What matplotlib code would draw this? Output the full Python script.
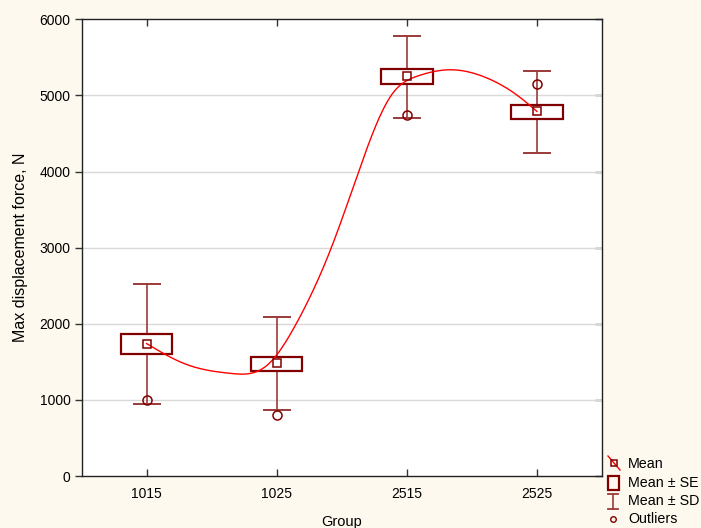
import numpy as np
import matplotlib
matplotlib.use("Agg")
import matplotlib.pyplot as plt
from matplotlib.lines import Line2D
from matplotlib.patches import Rectangle

plt.rcParams['font.family'] = ['Liberation Sans', 'DejaVu Sans']

# ---- data ----
groups = ['1015', '1025', '2515', '2525']
means = [1740, 1487, 5249, 4790]
se_low = [1601, 1382, 5149, 4685]
se_high = [1864, 1566, 5341, 4869]
sd_low = [945, 866, 4703, 4248]
sd_high = [2520, 2087, 5787, 5315]
outliers = [997, 800, 4738, 5154]

# fitted curve (position in group units, value)
curve_t = [0.0, 0.3, 0.646, 0.93, 1.15, 1.42, 1.63, 1.88, 2.08, 2.34, 2.6, 2.85, 3.0]
curve_v = [1740, 1470, 1348, 1460, 2000, 3000, 4000, 5000, 5253, 5337, 5240, 5000, 4790]


def natural_spline(x, y, xs):
    x = np.asarray(x, float); y = np.asarray(y, float)
    n = len(x); h = np.diff(x)
    A = np.zeros((n, n)); b = np.zeros(n)
    A[0, 0] = 1; A[-1, -1] = 1
    for i in range(1, n - 1):
        A[i, i - 1] = h[i - 1]
        A[i, i] = 2 * (h[i - 1] + h[i])
        A[i, i + 1] = h[i]
        b[i] = 6 * ((y[i + 1] - y[i]) / h[i] - (y[i] - y[i - 1]) / h[i - 1])
    M = np.linalg.solve(A, b)
    idx = np.clip(np.searchsorted(x, xs) - 1, 0, n - 2)
    x0 = x[idx]; x1 = x[idx + 1]; hh = x1 - x0
    a = (x1 - xs) / hh; bb = (xs - x0) / hh
    return (a * y[idx] + bb * y[idx + 1]
            + ((a ** 3 - a) * M[idx] + (bb ** 3 - bb) * M[idx + 1]) * hh ** 2 / 6)


W, H = 701, 528
fig = plt.figure(figsize=(W / 100, H / 100), dpi=100)
fig.patch.set_facecolor('#fdf9ef')
L, R, T, B = 81.5, 602, 19.3, 476
ax = fig.add_axes([L / W, 1 - B / H, (R - L) / W, (B - T) / H])
ax.set_facecolor('white')

dark = '#800000'
whisk = '#9c3a3a'
xpos = np.arange(len(groups))
box_w = 0.395
cap_w = 0.2

for i, g in enumerate(groups):
    ax.plot([i, i], [sd_low[i], sd_high[i]], color=whisk, lw=1.2, zorder=2)
    ax.plot([i - cap_w / 2, i + cap_w / 2], [sd_low[i]] * 2, color=whisk, lw=1.4, zorder=2)
    ax.plot([i - cap_w / 2, i + cap_w / 2], [sd_high[i]] * 2, color=whisk, lw=1.4, zorder=2)
    ax.add_patch(Rectangle((i - box_w / 2, se_low[i]), box_w, se_high[i] - se_low[i],
                           facecolor='white', edgecolor=dark, lw=1.6, zorder=3))

ax.plot(xpos, outliers, 'o', ms=6.5, mfc='none', mec=dark, mew=1.1, zorder=4)

ts = np.linspace(curve_t[0], curve_t[-1], 400)
ax.plot(ts, natural_spline(curve_t, curve_v, ts), color='#ff0000', lw=1.0, zorder=5)

ax.plot(xpos, means, 's', ms=6, mfc='none', mec=dark, mew=1.1, zorder=6)

ax.set_xlim(-0.5, 3.5)
ax.set_ylim(0, 6000)
ax.set_xticks(xpos)
ax.set_xticklabels(groups)
ax.set_yticks(np.arange(0, 6001, 1000))
for yv in range(1000, 6000, 1000):
    ax.axhline(yv, color='#d9d9d9', lw=1.0, zorder=1)

ax.tick_params(axis='x', direction='in', top=True, bottom=True, length=5,
               width=1, pad=8, labelsize=10, color='#333333')
ax.tick_params(axis='y', direction='out', left=True, right=False, length=5,
               width=1, pad=3, labelsize=10, color='#333333')
sec = ax.secondary_yaxis('right')
sec.set_yticks(np.arange(0, 6001, 1000))
sec.tick_params(direction='in', length=5, width=1, labelright=False, color='#333333')
sec.spines['right'].set_visible(False)

for s in ax.spines.values():
    s.set_color('#222222')
    s.set_linewidth(1.0)

ax.set_xlabel('Group', fontsize=10.5, labelpad=10)
ax.set_ylabel('Max displacement force, N', fontsize=11.5, labelpad=8)


def P(x, y):
    return (x / W, 1 - y / H)


tf = fig.transFigure
# Mean
x0, y0 = P(608, 456); x1, y1 = P(620, 470)
fig.add_artist(Line2D([x0, x1], [y0, y1], color='#ff0000', lw=1.0, transform=tf))
mx, my = P(614, 463)
fig.add_artist(Line2D([mx], [my], marker='s', ms=5, mfc='none', mec=dark, mew=1.1,
                      transform=tf))
# SE
rx, ry = P(608, 490)
fig.add_artist(Rectangle((rx, ry), 11 / W, 14 / H, facecolor='none', edgecolor=dark,
                         lw=1.6, transform=tf))
# SD
sx, sy0 = P(613, 509); _, sy1 = P(613, 494)
fig.add_artist(Line2D([sx, sx], [sy0, sy1], color=whisk, lw=1.2, transform=tf))
for yy in (sy0, sy1):
    fig.add_artist(Line2D([sx - 5 / W, sx + 5 / W], [yy, yy], color=whisk, lw=1.3,
                          transform=tf))
# Outliers
ox, oy = P(613, 519)
fig.add_artist(Line2D([ox], [oy], marker='o', ms=4, mfc='none', mec=dark, mew=1.0,
                      transform=tf))

labels = ['Mean', 'Mean \u00b1 SE', 'Mean \u00b1 SD', 'Outliers']
rows = [463.5, 483, 501, 519]
for lab, yy in zip(labels, rows):
    tx, ty = P(628, yy)
    fig.text(tx, ty, lab, fontsize=10.3, va='center', ha='left')

fig.savefig('out.png', dpi=100, facecolor=fig.get_facecolor())
